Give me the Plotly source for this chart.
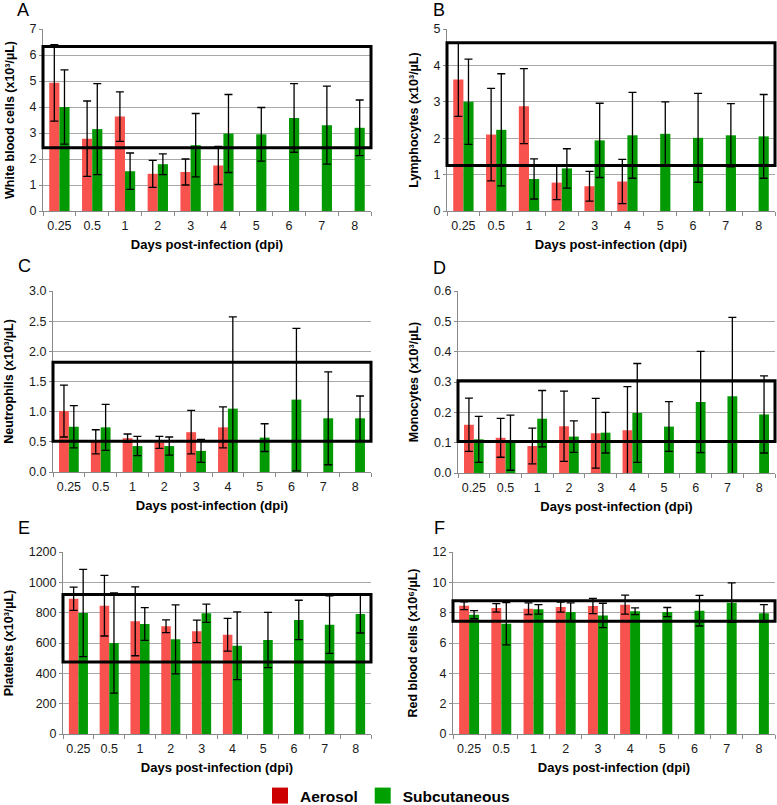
import plotly.graph_objects as go

# ---------------- data ----------------
days = ["0.25", "0.5", "1", "2", "3", "4", "5", "6", "7", "8"]
series_names = ["Aerosol", "Subcutaneous"]

wbc_aer = [4.93, 2.78, 3.63, 1.43, 1.50, 1.75]
wbc_aer_err = [1.47, 1.45, 0.95, 0.52, 0.50, 0.73]
wbc_sub = [4.00, 3.15, 1.53, 1.80, 2.53, 2.98, 2.95, 3.58, 3.30, 3.20]
wbc_sub_err = [1.43, 1.75, 0.70, 0.40, 1.22, 1.50, 1.03, 1.32, 1.50, 1.07]
wbc_range = [2.43, 6.33]

lym_aer = [3.61, 2.10, 2.88, 0.78, 0.68, 0.81]
lym_aer_err = [1.01, 1.27, 1.03, 0.47, 0.41, 0.61]
lym_sub = [3.00, 2.23, 0.88, 1.17, 1.94, 2.08, 2.12, 2.01, 2.08, 2.05]
lym_sub_err = [1.17, 1.54, 0.55, 0.54, 1.02, 1.18, 0.88, 1.22, 0.87, 1.15]
lym_range = [1.25, 4.62]

neu_aer = [1.01, 0.50, 0.56, 0.49, 0.66, 0.74]
neu_aer_err = [0.43, 0.20, 0.07, 0.10, 0.36, 0.34]
neu_sub = [0.75, 0.74, 0.43, 0.43, 0.35, 1.05, 0.57, 1.20, 0.89, 0.89]
neu_sub_err = [0.35, 0.38, 0.16, 0.15, 0.19, 1.52, 0.23, 1.18, 0.77, 0.37]
neu_range = [0.51, 1.82]

mon_aer = [0.159, 0.116, 0.089, 0.154, 0.131, 0.141]
mon_aer_err = [0.088, 0.064, 0.059, 0.116, 0.115, 0.144]
mon_sub = [0.111, 0.100, 0.179, 0.120, 0.133, 0.198, 0.153, 0.234, 0.253, 0.193]
mon_sub_err = [0.076, 0.091, 0.093, 0.052, 0.067, 0.163, 0.082, 0.167, 0.260, 0.127]
mon_range = [0.104, 0.304]

plt_aer = [892, 846, 743, 710, 677, 655]
plt_aer_err = [77, 200, 227, 42, 74, 108]
plt_sub = [798, 600, 725, 624, 796, 582, 620, 752, 721, 791]
plt_sub_err = [288, 330, 108, 228, 60, 223, 182, 130, 190, 125]
plt_range = [475, 919]

rbc_aer = [8.46, 8.31, 8.26, 8.37, 8.44, 8.53]
rbc_aer_err = [0.26, 0.28, 0.38, 0.33, 0.50, 0.63]
rbc_sub = [7.87, 7.27, 8.22, 8.04, 7.82, 8.09, 8.04, 8.13, 8.66, 7.96]
rbc_sub_err = [0.27, 1.40, 0.31, 0.60, 0.80, 0.22, 0.30, 1.01, 1.30, 0.57]
rbc_range = [7.43, 8.79]

letters = ["A", "B", "C", "D", "E", "F"]
y_titles = [
    "White blood cells (x10³/µL)",
    "Lymphocytes (x10³/µL)",
    "Neutrophils (x10³/µL)",
    "Monocytes (x10³/µL)",
    "Platelets (x10³/µL)",
    "Red blood cells (x10⁶/µL)",
]
x_title = "Days post-infection (dpi)"

# ---------------- style / layout ----------------
W, H = 777, 805
FONT = "Liberation Sans, Arial, Helvetica, DejaVu Sans, sans-serif"
RED_BAR = "#F8524F"
GREEN_BAR = "#039903"
RED_KEY = "#CC0000"
GREEN_KEY = "#00A000"
GRID = "#A8A8A8"
AXIS = "#8A8A8A"


def px(v):
    return v / W


def py(v):
    return 1 - v / H


panels = [
    dict(aer=wbc_aer, aer_err=wbc_aer_err, sub=wbc_sub, sub_err=wbc_sub_err, rng=wbc_range,
         xd=(43, 371), yd=(29, 211), ymax=7, dtick=1, fmt="d", letter_xy=(23, 10)),
    dict(aer=lym_aer, aer_err=lym_aer_err, sub=lym_sub, sub_err=lym_sub_err, rng=lym_range,
         xd=(447, 775), yd=(29, 211), ymax=5, dtick=1, fmt="d", letter_xy=(439, 10)),
    dict(aer=neu_aer, aer_err=neu_aer_err, sub=neu_sub, sub_err=neu_sub_err, rng=neu_range,
         xd=(53, 371), yd=(291, 472), ymax=3.0, dtick=0.5, fmt=".1f", letter_xy=(24, 266)),
    dict(aer=mon_aer, aer_err=mon_aer_err, sub=mon_sub, sub_err=mon_sub_err, rng=mon_range,
         xd=(458, 775), yd=(291, 473), ymax=0.6, dtick=0.1, fmt=".1f", letter_xy=(439, 268)),
    dict(aer=plt_aer, aer_err=plt_aer_err, sub=plt_sub, sub_err=plt_sub_err, rng=plt_range,
         xd=(63, 371), yd=(552, 734), ymax=1200, dtick=200, fmt="d", letter_xy=(24, 528)),
    dict(aer=rbc_aer, aer_err=rbc_aer_err, sub=rbc_sub, sub_err=rbc_sub_err, rng=rbc_range,
         xd=(453, 775), yd=(552, 734), ymax=12, dtick=2, fmt="d", letter_xy=(439, 528)),
]

fig = go.Figure()
layout = dict(
    width=W, height=H,
    margin=dict(l=0, r=0, t=0, b=0, autoexpand=False),
    paper_bgcolor="white", plot_bgcolor="white",
    barmode="group", bargap=0.38, bargroupgap=0,
    font=dict(family=FONT, color="#111111", size=12.5),
    shapes=[], annotations=[],
)

for i, p in enumerate(panels):
    n = "" if i == 0 else str(i + 1)
    xa, ya = "x" + n, "y" + n
    fig.add_trace(go.Bar(
        x=days[:len(p["aer"])], y=p["aer"], name=series_names[0],
        marker=dict(color=RED_BAR, line=dict(width=0)),
        error_y=dict(type="data", array=p["aer_err"], color="black", thickness=1.3, width=4),
        xaxis=xa, yaxis=ya, showlegend=False,
    ))
    fig.add_trace(go.Bar(
        x=days[:len(p["sub"])], y=p["sub"], name=series_names[1],
        marker=dict(color=GREEN_BAR, line=dict(width=0)),
        error_y=dict(type="data", array=p["sub_err"], color="black", thickness=1.3, width=4),
        xaxis=xa, yaxis=ya, showlegend=False,
    ))
    layout["xaxis" + n] = dict(
        domain=[px(p["xd"][0]), px(p["xd"][1])], anchor=ya,
        type="category", categoryorder="array", categoryarray=days,
        showline=True, linecolor=AXIS, linewidth=1,
        ticks="outside", tickson="boundaries", ticklen=4, tickcolor=AXIS,
        showgrid=False, tickfont=dict(size=12.5, color="#1a1a1a"),
        tickangle=0, ticklabelstandoff=3, fixedrange=True, automargin=False,
        title=dict(text=x_title, standoff=7,
                   font=dict(size=13, color="black", family=FONT, weight="bold")),
    )
    layout["yaxis" + n] = dict(
        domain=[py(p["yd"][1]), py(p["yd"][0])], anchor=xa,
        range=[0, p["ymax"]], tick0=0, dtick=p["dtick"], tickformat=p["fmt"],
        showgrid=True, gridcolor=GRID, gridwidth=1,
        showline=True, linecolor=AXIS, linewidth=1, zeroline=False,
        ticks="outside", ticklen=3, tickcolor=AXIS,
        tickfont=dict(size=12.5, color="#1a1a1a"), fixedrange=True, automargin=False,
        title=dict(text=y_titles[i], standoff=12,
                   font=dict(size=12.5, color="black", family=FONT, weight="bold")),
    )
    layout["shapes"].append(dict(
        type="rect", xref=xa + " domain", yref=ya,
        x0=0, x1=1, y0=p["rng"][0], y1=p["rng"][1],
        line=dict(color="black", width=3), fillcolor="rgba(0,0,0,0)", layer="above",
    ))
    layout["annotations"].append(dict(
        text=letters[i], xref="paper", yref="paper",
        x=px(p["letter_xy"][0]), y=py(p["letter_xy"][1]),
        xanchor="center", yanchor="middle", showarrow=False,
        font=dict(size=18, color="black", family=FONT),
    ))

# legend keys
for name, col in zip(series_names, [RED_KEY, GREEN_KEY]):
    fig.add_trace(go.Scatter(
        x=[None], y=[None], mode="markers", name=name,
        marker=dict(symbol="square", size=16, color=col, line=dict(width=0)),
        showlegend=True,
    ))

layout["legend"] = dict(
    orientation="h", x=px(260), xanchor="left", y=py(796), yanchor="middle",
    font=dict(size=15.5, color="black", family=FONT, weight="bold"),
    bgcolor="rgba(0,0,0,0)", itemclick=False, itemdoubleclick=False,
)
layout["showlegend"] = True

fig.update_layout(**layout)
fig.write_html(
    "out.html",
    config={"displayModeBar": False},
    post_script="document.body.style.margin='0';document.body.style.overflow='hidden';",
)
